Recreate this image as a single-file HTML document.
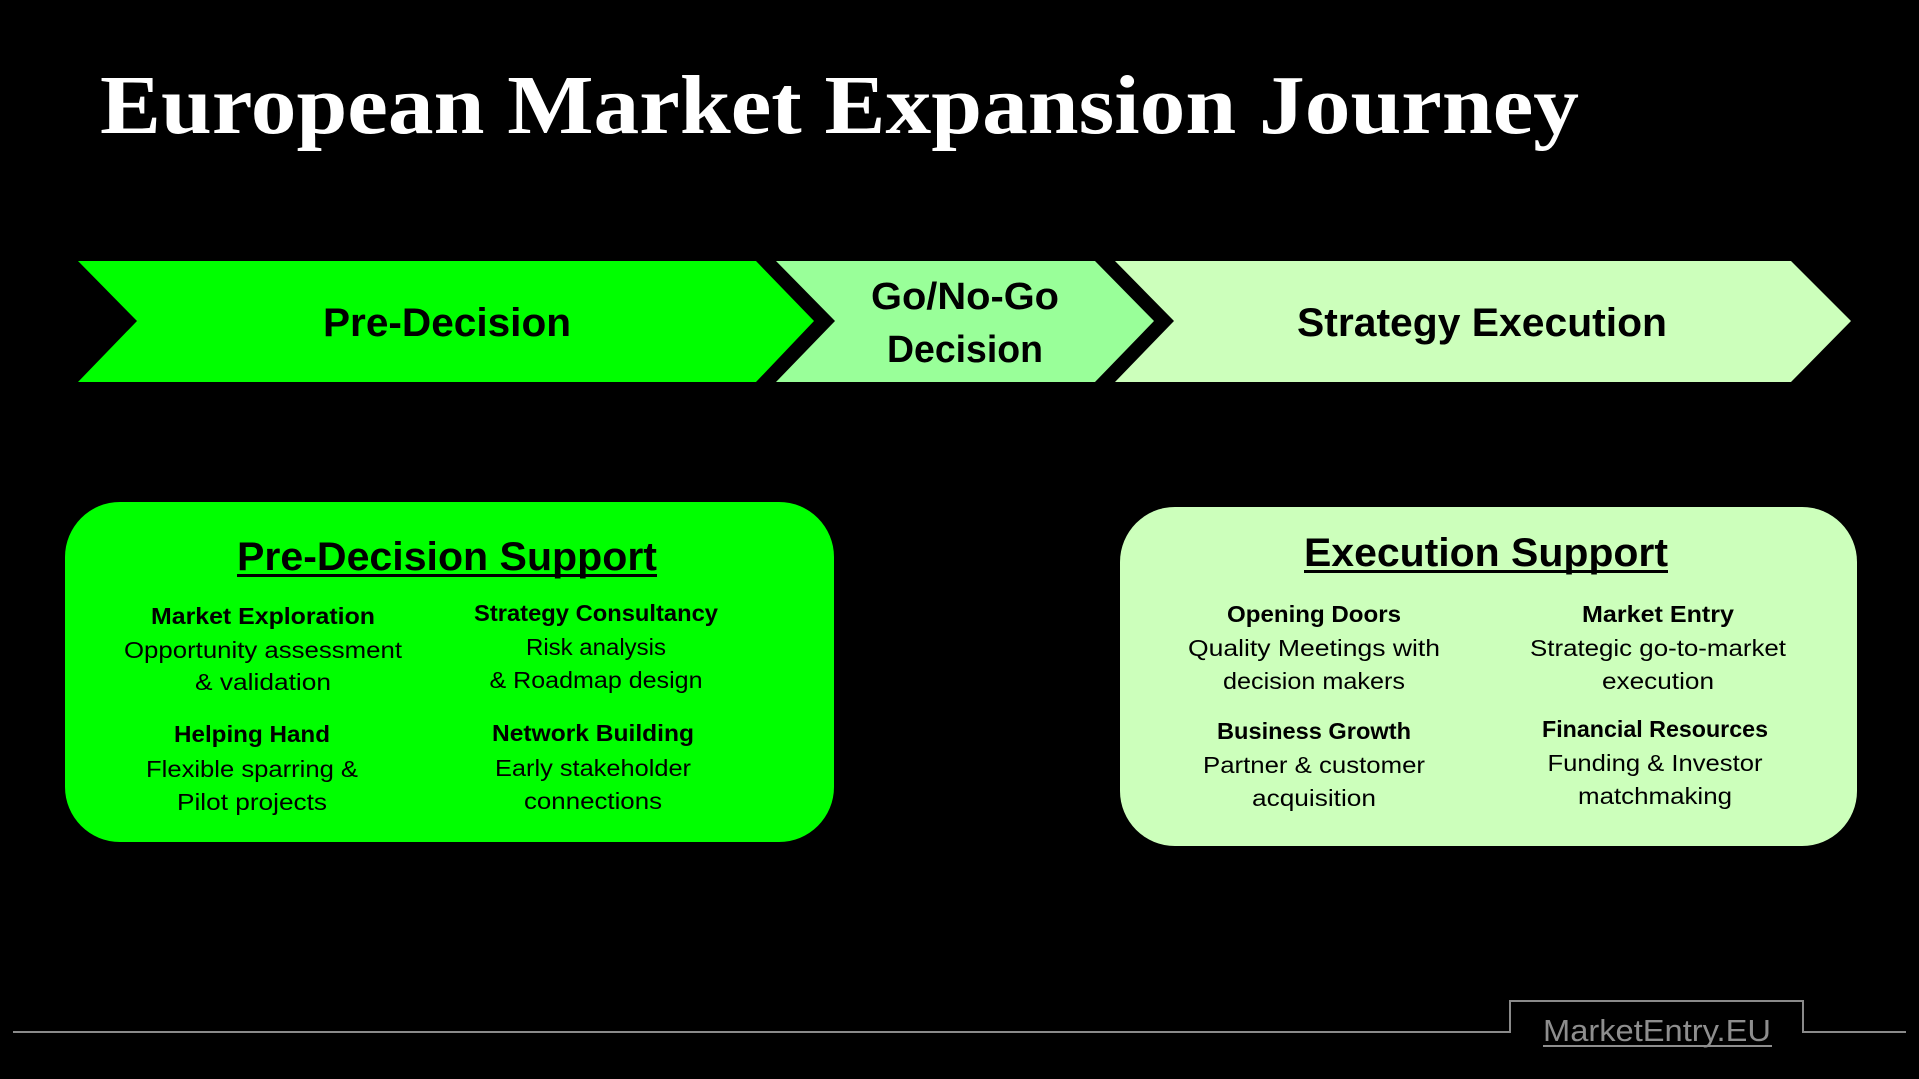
<!DOCTYPE html>
<html><head><meta charset="utf-8"><style>
html,body{margin:0;padding:0;background:#000;}
svg{display:block}
.s{font-family:"Liberation Sans",sans-serif;}
</style></head><body>
<svg width="1919" height="1079" viewBox="0 0 1919 1079" xmlns="http://www.w3.org/2000/svg">
<rect width="1919" height="1079" fill="#000"/>
<text x="100" y="133" font-family="Liberation Serif,serif" font-weight="bold" font-size="84" fill="#fff" textLength="1479" lengthAdjust="spacingAndGlyphs">European Market Expansion Journey</text>

<polygon points="78,261 756,261 814,321 756,382 78,382 137,321" fill="#00ff00"/>
<polygon points="776,261 1095,261 1154,321 1095,382 776,382 835,321" fill="#99ff99"/>
<polygon points="1115,261 1791,261 1851,321 1791,382 1115,382 1174,321" fill="#ccffbb"/>

<g class="s" font-weight="bold" fill="#000" text-anchor="middle">
<text x="447" y="336" font-size="40" textLength="248" lengthAdjust="spacingAndGlyphs">Pre-Decision</text>
<text x="965" y="309" font-size="38" textLength="188" lengthAdjust="spacingAndGlyphs">Go/No-Go</text>
<text x="965" y="362" font-size="38" textLength="156" lengthAdjust="spacingAndGlyphs">Decision</text>
<text x="1482" y="336" font-size="40" textLength="370" lengthAdjust="spacingAndGlyphs">Strategy Execution</text>
</g>

<rect x="65" y="502" width="769" height="340" rx="55" fill="#00ff00"/>
<rect x="1120" y="507" width="737" height="339" rx="55" fill="#ccffbb"/>

<g class="s" fill="#000" text-anchor="middle">
<text x="447" y="570" font-size="40" font-weight="bold" textLength="420" lengthAdjust="spacingAndGlyphs">Pre-Decision Support</text>
<rect x="237" y="574" width="420" height="3" fill="#000"/>
<text x="1486" y="566" font-size="40" font-weight="bold" textLength="364" lengthAdjust="spacingAndGlyphs">Execution Support</text>
<rect x="1304" y="570" width="364" height="3" fill="#000"/>

<g font-size="23">
<text x="263" y="624" font-weight="bold" textLength="224" lengthAdjust="spacingAndGlyphs">Market Exploration</text>
<text x="263" y="658" textLength="278" lengthAdjust="spacingAndGlyphs">Opportunity assessment</text>
<text x="263" y="690" textLength="136" lengthAdjust="spacingAndGlyphs">&amp; validation</text>

<text x="596" y="621" font-weight="bold" textLength="244" lengthAdjust="spacingAndGlyphs">Strategy Consultancy</text>
<text x="596" y="655" textLength="140" lengthAdjust="spacingAndGlyphs">Risk analysis</text>
<text x="596" y="688" textLength="213" lengthAdjust="spacingAndGlyphs">&amp; Roadmap design</text>

<text x="252" y="742" font-weight="bold" textLength="156" lengthAdjust="spacingAndGlyphs">Helping Hand</text>
<text x="252" y="777" textLength="212" lengthAdjust="spacingAndGlyphs">Flexible sparring &amp;</text>
<text x="252" y="810" textLength="150" lengthAdjust="spacingAndGlyphs">Pilot projects</text>

<text x="593" y="741" font-weight="bold" textLength="202" lengthAdjust="spacingAndGlyphs">Network Building</text>
<text x="593" y="776" textLength="196" lengthAdjust="spacingAndGlyphs">Early stakeholder</text>
<text x="593" y="809" textLength="138" lengthAdjust="spacingAndGlyphs">connections</text>

<text x="1314" y="622" font-weight="bold" textLength="174" lengthAdjust="spacingAndGlyphs">Opening Doors</text>
<text x="1314" y="656" textLength="252" lengthAdjust="spacingAndGlyphs">Quality Meetings with</text>
<text x="1314" y="689" textLength="182" lengthAdjust="spacingAndGlyphs">decision makers</text>

<text x="1658" y="622" font-weight="bold" textLength="152" lengthAdjust="spacingAndGlyphs">Market Entry</text>
<text x="1658" y="656" textLength="256" lengthAdjust="spacingAndGlyphs">Strategic go-to-market</text>
<text x="1658" y="689" textLength="112" lengthAdjust="spacingAndGlyphs">execution</text>

<text x="1314" y="739" font-weight="bold" textLength="194" lengthAdjust="spacingAndGlyphs">Business Growth</text>
<text x="1314" y="773" textLength="222" lengthAdjust="spacingAndGlyphs">Partner &amp; customer</text>
<text x="1314" y="806" textLength="124" lengthAdjust="spacingAndGlyphs">acquisition</text>

<text x="1655" y="737" font-weight="bold" textLength="226" lengthAdjust="spacingAndGlyphs">Financial Resources</text>
<text x="1655" y="771" textLength="215" lengthAdjust="spacingAndGlyphs">Funding &amp; Investor</text>
<text x="1655" y="804" textLength="154" lengthAdjust="spacingAndGlyphs">matchmaking</text>
</g>
</g>

<polyline points="13,1032 1510,1032 1510,1001 1803,1001 1803,1032 1906,1032" fill="none" stroke="#8a8a8a" stroke-width="2"/>
<text x="1657" y="1041" class="s" font-size="31" fill="#8e8e8e" text-anchor="middle" textLength="228" lengthAdjust="spacingAndGlyphs">MarketEntry.EU</text>
<rect x="1543" y="1045" width="229" height="2" fill="#8e8e8e"/>
</svg>
</body></html>
